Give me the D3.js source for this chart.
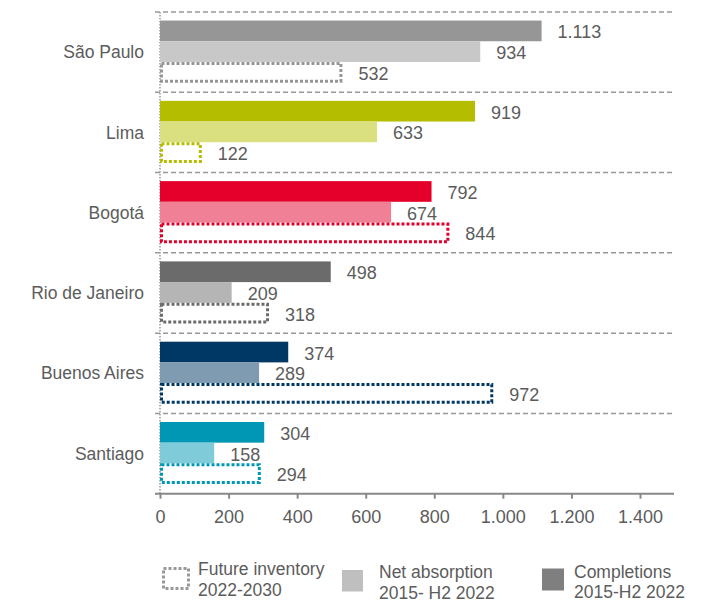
<!DOCTYPE html>
<html>
<head>
<meta charset="utf-8">
<script src="https://cdn.jsdelivr.net/npm/d3@7"></script>
<style>
  html, body { margin: 0; padding: 0; background: #fff; }
  svg text { font-family: "Liberation Sans", Arial, sans-serif; fill: #5c5c5c; }
</style>
</head>
<body>
<svg id="chart" width="708" height="603"></svg>
<script>
// Office market figures by city (thousand m²)
const cities = ["São Paulo", "Lima", "Bogotá", "Rio de Janeiro", "Buenos Aires", "Santiago"];
const completions = [1113, 919, 792, 498, 374, 304];
const netAbsorption = [934, 633, 674, 209, 289, 158];
const futureInventory = [532, 122, 844, 318, 972, 294];
const xTicks = [0, 200, 400, 600, 800, 1000, 1200, 1400];

// Per-city palette: strong shade for completions, light shade for absorption
const strongColors = ["#969696", "#b5bd00", "#e4002b", "#6b6b6b", "#003865", "#0097b5"];
const lightColors = ["#c8c8c8", "#dadf80", "#f08095", "#b4b5b4", "#7f9bb2", "#80cbda"];

const legendItems = [
  { key: "future", lines: ["Future inventory", "2022-2030"] },
  { key: "absorption", lines: ["Net absorption", "2015- H2 2022"], color: "#bfbfbf" },
  { key: "completions", lines: ["Completions", "2015-H2 2022"], color: "#7f7f7f" }
];

const locale = d3.formatLocale({ decimal: ",", thousands: ".", grouping: [3], currency: ["", ""] });
const fmt = locale.format(",d");

const svg = d3.select("#chart");
const plot = { left: 160, right: 640, top: 12, bottom: 493.7, lineEnd: 674 };

const x = d3.scaleLinear().domain([0, 1400]).range([plot.left, plot.right]);
const y = d3.scaleBand().domain(cities).range([plot.top, plot.bottom]).padding(0);
const series = ["completions", "absorption", "future"];
const sub = d3.scaleBand().domain(series).range([0, y.bandwidth()])
  .paddingInner(0).paddingOuter(0.44).align(0.47);

const rows = cities.map((c, i) => ({
  city: c, i,
  values: { completions: completions[i], absorption: netAbsorption[i], future: futureInventory[i] }
}));

// Dashed separators between cities
const bounds = cities.map(c => y(c));
svg.append("g").selectAll("line").data(bounds).join("line")
  .attr("x1", 155).attr("x2", plot.lineEnd)
  .attr("y1", d => d).attr("y2", d => d)
  .attr("stroke", "#999").attr("stroke-width", 1.5).attr("stroke-dasharray", "5,3");

// Dotted vertical base line
svg.append("line")
  .attr("x1", x(0)).attr("x2", x(0))
  .attr("y1", plot.top).attr("y2", plot.bottom)
  .attr("stroke", "#999").attr("stroke-width", 1.5).attr("stroke-dasharray", "1.5,1.5");

// Bars
const groups = svg.append("g").selectAll("g").data(rows).join("g")
  .attr("transform", d => `translate(0,${y(d.city)})`);

groups.append("rect")
  .attr("x", x(0)).attr("y", sub("completions"))
  .attr("width", d => x(d.values.completions) - x(0)).attr("height", sub.bandwidth())
  .attr("fill", d => strongColors[d.i]);

groups.append("rect")
  .attr("x", x(0)).attr("y", sub("absorption"))
  .attr("width", d => x(d.values.absorption) - x(0)).attr("height", sub.bandwidth())
  .attr("fill", d => lightColors[d.i]);

groups.append("rect")
  .attr("x", x(0) + 1.5).attr("y", sub("future") + 1.5)
  .attr("width", d => x(d.values.future) - x(0) - 3).attr("height", sub.bandwidth() - 3)
  .attr("fill", "none")
  .attr("stroke", d => strongColors[d.i]).attr("stroke-width", 3)
  .attr("stroke-dasharray", "3,2");

// Value labels
series.forEach(s => {
  groups.append("text")
    .attr("x", d => x(d.values[s]) + 16)
    .attr("y", sub(s) + sub.bandwidth() / 2)
    .attr("dy", "0.42em")
    .attr("font-size", 18)
    .text(d => fmt(d.values[s]));
});

// City labels
svg.append("g").selectAll("text").data(cities).join("text")
  .attr("x", 144).attr("y", d => y(d) + y.bandwidth() / 2)
  .attr("dy", "0.35em").attr("text-anchor", "end").attr("font-size", 17.5)
  .text(d => d);

// X axis
const axis = svg.append("g").attr("transform", `translate(0,${plot.bottom})`)
  .call(d3.axisBottom(x).tickValues(xTicks).tickFormat(fmt).tickSize(5).tickSizeOuter(0).tickPadding(12));
axis.select(".domain").remove();
axis.append("line").attr("x1", 155).attr("x2", plot.lineEnd)
  .attr("stroke", "#888").attr("stroke-width", 2);
axis.selectAll(".tick line").attr("stroke", "#888").attr("stroke-width", 2);
axis.selectAll(".tick text").attr("font-size", 18)
  .attr("font-family", "Liberation Sans, Arial, sans-serif").attr("fill", "#5c5c5c");

// Legend
const legendPos = {
  future: { icon: [162, 567, 28, 23], tx: 198, ty: 575 },
  absorption: { icon: [342, 570, 21, 21.5], tx: 379, ty: 578 },
  completions: { icon: [542, 568.5, 22, 22], tx: 574, ty: 577.5 }
};
const legend = svg.append("g");
legendItems.forEach(item => {
  const p = legendPos[item.key];
  if (item.key === "future") {
    legend.append("rect")
      .attr("x", p.icon[0] + 1.5).attr("y", p.icon[1] + 1.5)
      .attr("width", p.icon[2] - 3).attr("height", p.icon[3] - 3)
      .attr("fill", "none").attr("stroke", "#999").attr("stroke-width", 3)
      .attr("stroke-dasharray", "3,2");
  } else {
    legend.append("rect")
      .attr("x", p.icon[0]).attr("y", p.icon[1])
      .attr("width", p.icon[2]).attr("height", p.icon[3])
      .attr("fill", item.color);
  }
  const t = legend.append("text").attr("font-size", 17.5);
  item.lines.forEach((ln, k) => {
    t.append("tspan").attr("x", p.tx).attr("y", p.ty + k * 20.5).text(ln);
  });
});
</script>
</body>
</html>
